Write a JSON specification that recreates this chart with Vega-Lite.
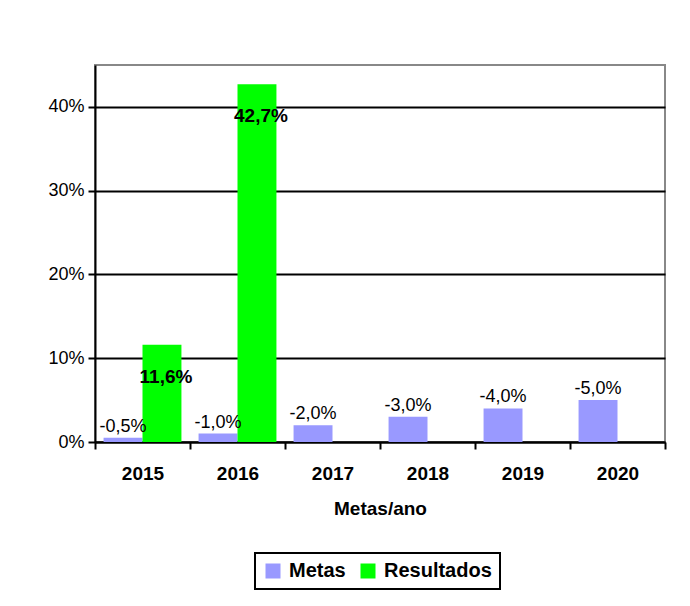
{
  "$schema": "https://vega.github.io/schema/vega-lite/v6.json",
  "autosize": {"type": "none"},
  "width": 570,
  "height": 377,
  "padding": {"left": 95, "top": 65, "right": 25, "bottom": 164},
  "background": "white",
  "data": {
    "values": [
      {"year": "2015", "series": "Metas", "value": 0.005, "label": "-0,5%"},
      {"year": "2015", "series": "Resultados", "value": 0.116, "label": "11,6%"},
      {"year": "2016", "series": "Metas", "value": 0.01, "label": "-1,0%"},
      {"year": "2016", "series": "Resultados", "value": 0.427, "label": "42,7%"},
      {"year": "2017", "series": "Metas", "value": 0.02, "label": "-2,0%"},
      {"year": "2018", "series": "Metas", "value": 0.03, "label": "-3,0%"},
      {"year": "2019", "series": "Metas", "value": 0.04, "label": "-4,0%"},
      {"year": "2020", "series": "Metas", "value": 0.05, "label": "-5,0%"}
    ]
  },
  "encoding": {
    "x": {
      "field": "year",
      "type": "nominal",
      "title": "Metas/ano",
      "scale": {"paddingInner": 0, "paddingOuter": 0},
      "axis": {
        "tickBand": "extent",
        "labelAngle": 0,
        "labelFontSize": 19,
        "labelFontWeight": "bold",
        "labelColor": "black",
        "labelPadding": 15,
        "tickSize": 7,
        "tickWidth": 2,
        "tickColor": "black",
        "domainColor": "black",
        "domainWidth": 2,
        "grid": false,
        "titleFontSize": 19,
        "titleFontWeight": "bold",
        "titleColor": "black",
        "titlePadding": 16
      }
    },
    "xOffset": {
      "field": "series",
      "type": "nominal",
      "scale": {"domain": ["Metas", "Resultados"], "paddingInner": 0, "paddingOuter": 0.22}
    },
    "y": {
      "field": "value",
      "type": "quantitative",
      "scale": {"domain": [0, 0.45], "nice": false},
      "axis": {
        "title": null,
        "values": [0, 0.1, 0.2, 0.3, 0.4],
        "format": ".0%",
        "grid": true,
        "gridColor": "black",
        "gridWidth": 2,
        "gridOpacity": 1,
        "domainColor": "black",
        "domainWidth": 2,
        "tickColor": "black",
        "tickWidth": 2,
        "tickSize": 7,
        "labelFontSize": 18,
        "labelColor": "black",
        "labelPadding": 4
      }
    }
  },
  "layer": [
    {
      "mark": {"type": "bar"},
      "encoding": {
        "color": {
          "field": "series",
          "type": "nominal",
          "scale": {"domain": ["Metas", "Resultados"], "range": ["#9999FF", "#00FF00"]},
          "legend": {
            "title": null,
            "orient": "none",
            "legendX": 160,
            "legendY": 488,
            "direction": "horizontal",
            "symbolType": "square",
            "symbolSize": 225,
            "symbolStrokeWidth": 0,
            "labelFontSize": 20,
            "labelFontWeight": "bold",
            "labelColor": "black",
            "labelOffset": 6,
            "columnPadding": 12,
            "strokeColor": "black",
            "padding": 8
          }
        }
      }
    },
    {
      "transform": [{"filter": "datum.series == 'Metas'"}],
      "mark": {"type": "text", "baseline": "alphabetic", "dy": -6, "fontSize": 18, "color": "black"},
      "encoding": {"text": {"field": "label", "type": "nominal"}}
    },
    {
      "transform": [{"filter": "datum.series == 'Resultados'"}],
      "mark": {"type": "text", "baseline": "middle", "dy": 32, "dx": 4, "fontSize": 19, "fontWeight": "bold", "color": "black"},
      "encoding": {"text": {"field": "label", "type": "nominal"}}
    }
  ],
  "config": {
    "font": "Liberation Sans",
    "view": {"stroke": "#888888", "strokeWidth": 2},
    "legend": {"strokeWidth": 2}
  }
}
